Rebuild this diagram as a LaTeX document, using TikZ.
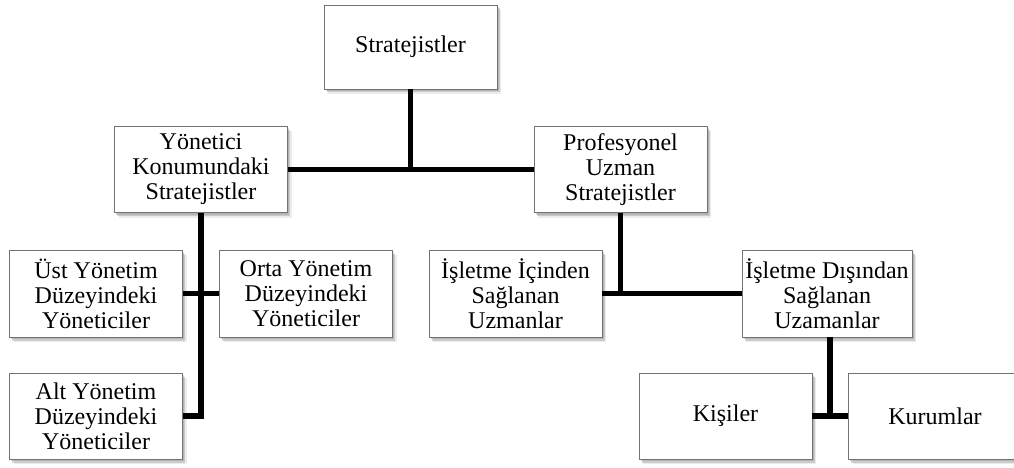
\documentclass[tikz,border=0pt]{standalone}
\usepackage{fontspec}
\setmainfont{Liberation Serif}
\usetikzlibrary{shadows}
\begin{document}
\begin{tikzpicture}[x=1pt,y=-1pt,
  orgbox/.style={draw=black!55, line width=0.9pt, fill=white,
    minimum width=173pt, minimum height=86pt, inner sep=0pt, align=center,
    font=\fontsize{24}{25}\selectfont,
    drop shadow={opacity=.15, shadow xshift=4pt, shadow yshift=-5pt},
    drop shadow={opacity=.3, shadow xshift=2.5pt, shadow yshift=-3.5pt},
    drop shadow={opacity=.3, shadow xshift=1.5pt, shadow yshift=-2pt}},
  link/.style={line width=5.5pt, black}]
\useasboundingbox (0,0) rectangle (1014,468);
\fill[white] (0,0) rectangle (1014,468);

% boxes
\node[orgbox, minimum height=84pt] (top) at (410.5,47) {Stratejistler};
\node[orgbox] (yon) at (201,169.5) {Yönetici\\Konumundaki\\Stratejistler};
\node[orgbox] (pro) at (620.5,169.5) {Profesyonel\\Uzman\\Stratejistler};
\node[orgbox, minimum height=87pt] (ust) at (96,293.5) {Üst Yönetim\\Düzeyindeki\\Yöneticiler};
\node[orgbox, minimum height=87pt] (orta) at (306,293.5) {Orta Yönetim\\Düzeyindeki\\Yöneticiler};
\node[orgbox] (alt) at (96,416) {Alt Yönetim\\Düzeyindeki\\Yöneticiler};
\node[orgbox, minimum height=87pt] (ici) at (515.5,293.5) {İşletme İçinden\\Sağlanan\\Uzmanlar};
\node[orgbox, minimum width=170pt, minimum height=87pt] (dis) at (827,293.5) {İşletme Dışından\\Sağlanan\\Uzamanlar};
\node[orgbox] (kis) at (725.5,416) {Kişiler};
\node[orgbox] (kur) at (935,416) {Kurumlar};

% connectors
\coordinate (dj) at ([xshift=3pt]dis.south);
\draw[link] (top.south) -- (top.south |- yon.east);
\draw[link] (yon.east) -- (pro.west);
\draw[link] (yon.south) -- (yon.south |- alt.east) -- (alt.east);
\draw[link] (ust.east) -- (orta.west);
\draw[link] (pro.south) -- (pro.south |- ici.east);
\draw[link] (ici.east) -- (dis.west);
\draw[link] (dj) -- (dj |- kis.east);
\draw[link] (kis.east) -- (kur.west);
\end{tikzpicture}
\end{document}
